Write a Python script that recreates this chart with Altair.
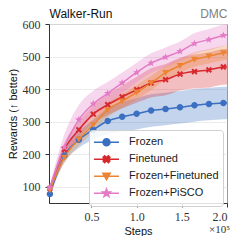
import math
import altair as alt
import pandas as pd

series = ["Frozen", "Finetuned", "Frozen+Finetuned", "Frozen+PiSCO"]
colors = ["#3A6FC1", "#D7282D", "#EC8433", "#E47BC6"]

steps = [4000, 20000, 36000, 52000, 68000, 84000, 100000, 116000,
         132000, 148000, 164000, 180000, 196000, 200000]
n_markers = 13

frozen_mean = [78, 195, 244, 275, 302, 315, 324, 334, 339, 344, 350, 354, 357, 358]
frozen_std = [8, 20, 25, 30, 40, 45, 48, 50, 50, 50, 50, 50, 50, 50]
finetuned_mean = [95, 215, 275, 323, 352, 376, 398, 419, 429, 446, 454, 459, 468, 469]
finetuned_std = [8, 20, 25, 28, 32, 35, 40, 45, 48, 50, 52, 54, 55, 55]
ff_mean = [90, 190, 246, 290, 336, 363, 390, 419, 450, 472, 491, 501, 511, 513]
ff_std = [8, 18, 20, 20, 22, 22, 22, 22, 22, 22, 22, 22, 22, 22]
pisco_mean = [98, 221, 306, 355, 387, 419, 451, 480, 498, 516, 540, 552, 565, 567]
pisco_std = [8, 40, 45, 40, 35, 32, 30, 30, 30, 30, 32, 33, 33, 33]

x_ticks = [50000, 100000, 150000, 200000]
y_ticks = [100, 200, 300, 400, 500, 600]

means = [frozen_mean, finetuned_mean, ff_mean, pisco_mean]
stds = [frozen_std, finetuned_std, ff_std, pisco_std]

rows = []
for name, m, s in zip(series, means, stds):
    for i, st in enumerate(steps):
        rows.append({"series": name, "step": st, "mean": m[i],
                     "lo": m[i] - s[i], "hi": m[i] + s[i],
                     "marker": i < n_markers})
df = pd.DataFrame(rows)


def fmt(v):
    return f"{v:.3f}".rstrip("0").rstrip(".")


def poly(pts):
    return "M" + "L".join(f"{fmt(x)},{fmt(y)}" for x, y in pts) + "Z"


def circle_path(r):
    return (f"M{fmt(r)},0A{fmt(r)},{fmt(r)},0,1,1,{fmt(-r)},0"
            f"A{fmt(r)},{fmt(r)},0,1,1,{fmt(r)},0Z")


def x_path(r):
    w = 0.3 * r
    base = [(-w, -r), (w, -r), (w, -w), (r, -w), (r, w), (w, w), (w, r),
            (-w, r), (-w, w), (-r, w), (-r, -w), (-w, -w)]
    c = math.cos(math.pi / 4)
    return poly([((x - y) * c, (x + y) * c) for x, y in base])


def tri_down_path(r):
    return poly([(-r, -0.8 * r), (r, -0.8 * r), (0, 0.95 * r)])


def star_path(r):
    pts = []
    for k in range(10):
        rad = r if k % 2 == 0 else 0.42 * r
        a = -math.pi / 2 + k * math.pi / 5
        pts.append((rad * math.cos(a), rad * math.sin(a)))
    return poly(pts)


marker_paths = [circle_path(1), x_path(1.05), tri_down_path(1.05), star_path(1.2)]
m = 0.28
legend_paths = ["M-1,0H1" + p for p in
                [circle_path(m), x_path(m * 1.05), tri_down_path(m * 1.05), star_path(m * 1.2)]]

SANS = "Liberation Sans"
SERIF = "Liberation Serif"

xscale = alt.Scale(domain=[3000, 200000], nice=False, zero=False)
yscale = alt.Scale(domain=[50, 600], nice=False, zero=False)
cscale = alt.Scale(domain=series, range=colors)

base = alt.Chart(df)

bands = base.mark_area(opacity=0.3, interpolate="monotone").encode(
    x=alt.X("step:Q", scale=xscale, axis=alt.Axis(
        values=x_ticks, labelExpr="format(datum.value / 100000, '.1f')",
        title="Steps", grid=False, tickSize=4, labelPadding=4, titlePadding=3)),
    y=alt.Y("lo:Q", scale=yscale, axis=alt.Axis(
        values=y_ticks, title="Rewards (↑ better)", grid=True, tickSize=4,
        labelPadding=5, titlePadding=4)),
    y2="hi:Q",
    color=alt.Color("series:N", scale=cscale, legend=None),
)

lines = base.mark_line(strokeWidth=1.5, interpolate="monotone").encode(
    x=alt.X("step:Q", scale=xscale, axis=None),
    y=alt.Y("mean:Q", scale=yscale, axis=None),
    color=alt.Color("series:N", scale=cscale, legend=None),
)

points = base.transform_filter("datum.marker").mark_point(
    filled=True, size=42, opacity=1).encode(
    x=alt.X("step:Q", scale=xscale, axis=None),
    y=alt.Y("mean:Q", scale=yscale, axis=None),
    color=alt.Color("series:N", scale=cscale, legend=None),
    shape=alt.Shape("series:N", scale=alt.Scale(domain=series, range=marker_paths), legend=None),
)

leg = alt.Legend(title=None, orient="none", legendX=40, legendY=106,
                 symbolSize=625, symbolStrokeWidth=1.5, clipHeight=16.4,
                 rowPadding=0, labelOffset=9, padding=4,
                 labelFont=SANS, labelFontSize=11, labelColor="#222",
                 fillColor="rgba(255,255,255,0.85)", strokeColor="#d0d0d0",
                 cornerRadius=3)

legend_layer = base.transform_filter("false").mark_point(
    filled=True, opacity=1, strokeWidth=1.5).encode(
    x=alt.X("step:Q", scale=xscale, axis=alt.Axis(
        orient="top", title="Walker-Run", labels=False, ticks=False, domain=False,
        grid=False, titleAnchor="start", titleAlign="left", titleBaseline="alphabetic",
        titleX=0, titleY=-7, titleFontSize=12, titleColor="#111")),
    y=alt.Y("mean:Q", scale=yscale, axis=alt.Axis(
        orient="right", title="DMC", labels=False, ticks=False, domain=False,
        grid=False, titleAngle=0, titleAlign="right", titleBaseline="alphabetic",
        titleX=0, titleY=-7, titleFontSize=12, titleColor="#808080")),
    fill=alt.Fill("series:N", scale=cscale, legend=leg),
    stroke=alt.Stroke("series:N", scale=cscale, legend=leg),
    shape=alt.Shape("series:N", scale=alt.Scale(domain=series, range=legend_paths), legend=leg),
)

chart = alt.layer(bands, lines, points, legend_layer).resolve_scale(
    shape="independent", fill="independent", stroke="independent"
).resolve_axis(
    x="independent", y="independent"
).properties(
    width=178, height=179,
    autosize=alt.AutoSizeParams(type="none"),
    padding={"left": 41, "top": 16, "right": 5, "bottom": 33},
    title=alt.TitleParams("×10⁵", orient="bottom", anchor="end", font=SERIF,
                          fontSize=11, fontWeight="normal", color="#333", dy=-16),
).configure_view(
    stroke="#9a9a9a", strokeWidth=1
).configure_axis(
    labelFont=SERIF, labelFontSize=12, labelColor="#333",
    titleFont=SANS, titleFontSize=11, titleFontWeight="normal", titleColor="#111",
    domainColor="#333", tickColor="#333", gridColor="#e6e6e6", gridWidth=0.8,
)

chart.save("out.html", embed_options={"renderer": "svg", "actions": False})
